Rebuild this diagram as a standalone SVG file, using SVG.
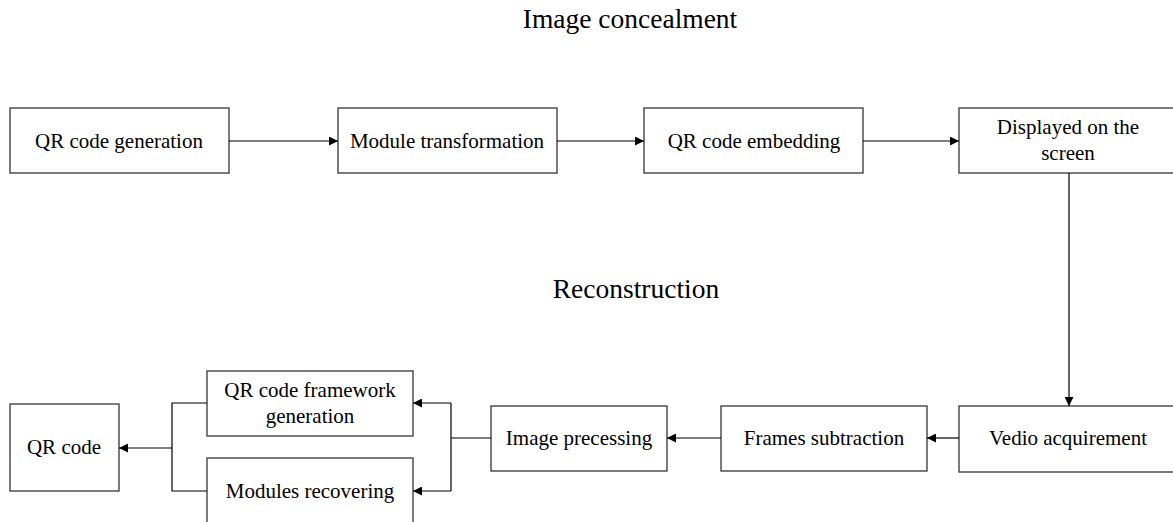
<svg xmlns="http://www.w3.org/2000/svg" width="1173" height="522" viewBox="0 0 1173 522">
<style>
.box{fill:#fff;stroke:#444;stroke-width:1.4}
.t{font-family:"Liberation Serif","Times New Roman",serif;font-size:21px;fill:#000;text-anchor:middle}
.h{font-family:"Liberation Serif","Times New Roman",serif;font-size:27.5px;fill:#000;text-anchor:middle}
.c{fill:none;stroke:#000;stroke-width:1.2}
</style>
<defs>
<marker id="a" viewBox="0 0 10 10" refX="10" refY="5" markerWidth="10" markerHeight="9" markerUnits="userSpaceOnUse" orient="auto">
<path d="M0,0L10,5L0,10z" fill="#000"/>
</marker>
</defs>
<rect width="1173" height="522" fill="#fff"/>
<text class="h" x="630" y="28">Image concealment</text>
<text class="h" x="636" y="298">Reconstruction</text>
<g id="n1"><rect class="box" x="10" y="108" width="219" height="65"/><text class="t" x="119" y="148">QR code generation</text></g>
<g id="n2"><rect class="box" x="338" y="108" width="219" height="65"/><text class="t" x="447" y="148">Module transformation</text></g>
<g id="n3"><rect class="box" x="644" y="108" width="219" height="65"/><text class="t" x="754" y="148">QR code embedding</text></g>
<g id="n4"><rect class="box" x="959" y="108" width="230" height="65"/><text class="t" x="1068" y="134">Displayed on the</text><text class="t" x="1068" y="160">screen</text></g>
<g id="n5"><rect class="box" x="959" y="406" width="230" height="66"/><text class="t" x="1068" y="445">Vedio acquirement</text></g>
<g id="n6"><rect class="box" x="721" y="406" width="206" height="65"/><text class="t" x="824" y="445">Frames subtraction</text></g>
<g id="n7"><rect class="box" x="491" y="406" width="176" height="65"/><text class="t" x="579" y="445">Image precessing</text></g>
<g id="n8"><rect class="box" x="207" y="371" width="206" height="65"/><text class="t" x="310" y="397">QR code framework</text><text class="t" x="310" y="423">generation</text></g>
<g id="n9"><rect class="box" x="207" y="458" width="206" height="70"/><text class="t" x="310" y="498">Modules recovering</text></g>
<g id="n10"><rect class="box" x="10" y="404" width="109" height="87"/><text class="t" x="64" y="454">QR code</text></g>
<g id="connectors">
<line class="c" x1="229" y1="141" x2="338" y2="141" marker-end="url(#a)"/>
<line class="c" x1="557" y1="141" x2="644" y2="141" marker-end="url(#a)"/>
<line class="c" x1="863" y1="141" x2="959" y2="141" marker-end="url(#a)"/>
<line class="c" x1="1069" y1="173" x2="1069" y2="406" marker-end="url(#a)"/>
<line class="c" x1="959" y1="438" x2="927" y2="438" marker-end="url(#a)"/>
<line class="c" x1="721" y1="438" x2="667" y2="438" marker-end="url(#a)"/>
<line class="c" x1="491" y1="438" x2="451" y2="438"/>
<line class="c" x1="451" y1="403" x2="451" y2="491"/>
<line class="c" x1="451" y1="403" x2="413" y2="403" marker-end="url(#a)"/>
<line class="c" x1="451" y1="491" x2="413" y2="491" marker-end="url(#a)"/>
<polyline class="c" points="207,403 172,403 172,491 207,491"/>
<line class="c" x1="172" y1="448" x2="119" y2="448" marker-end="url(#a)"/>
</g>
</svg>
